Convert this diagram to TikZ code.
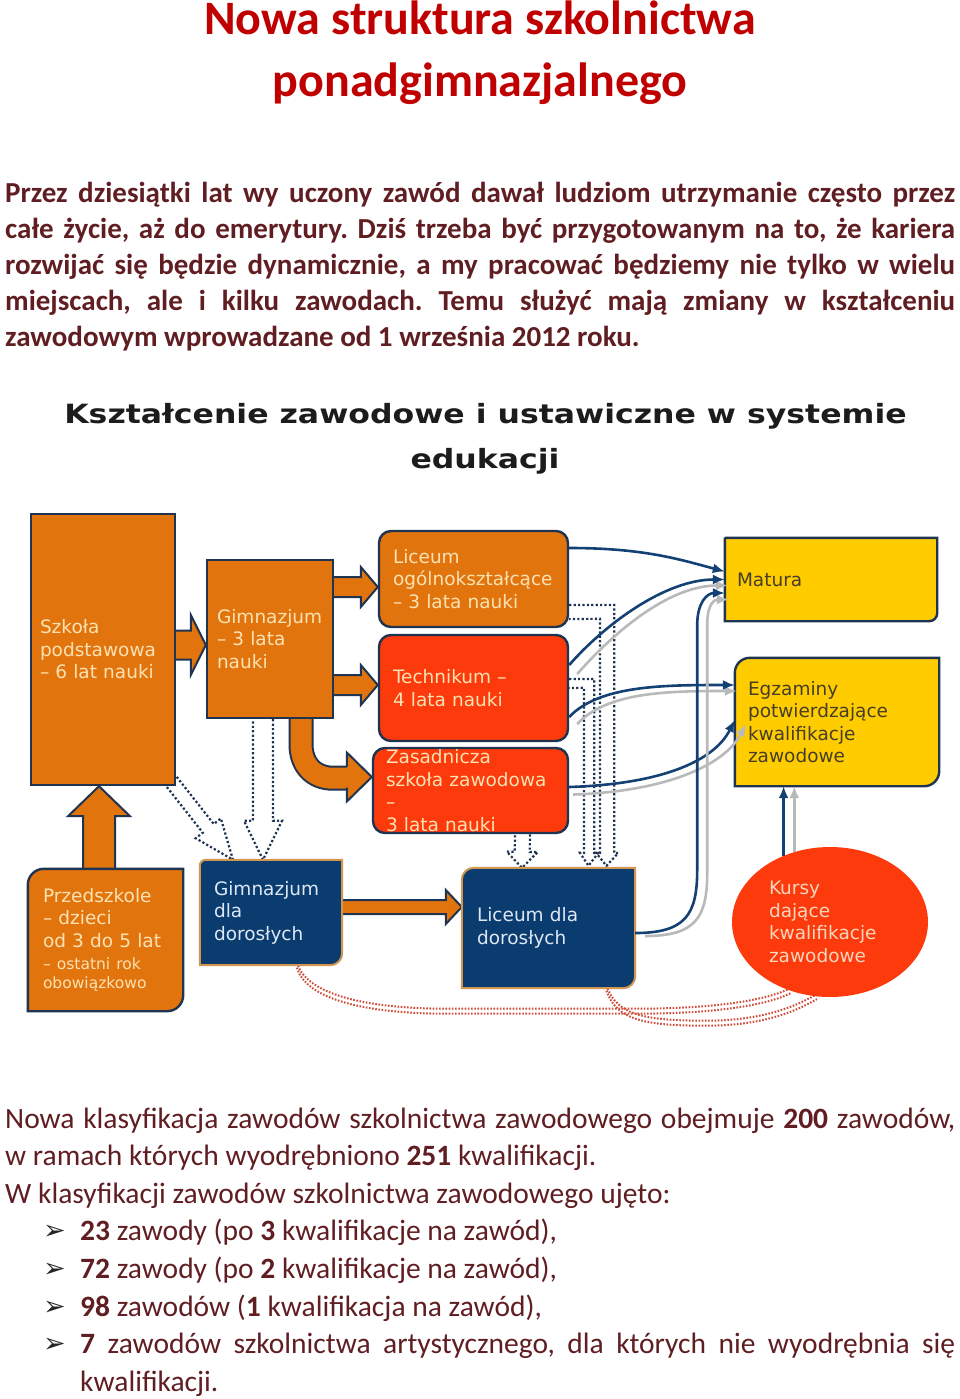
\documentclass[tikz,border=0pt]{standalone}
\usepackage{fontspec}
\usepackage{graphicx}
\usetikzlibrary{calc,shapes.geometric,arrows.meta,backgrounds}

\newfontfamily\docfont{Carlito}
\newfontfamily\diafont{DejaVu Sans}
\hyphenpenalty=10000
\frenchspacing

\definecolor{titlered}{RGB}{192,0,0}
\definecolor{bodytxt}{RGB}{96,30,34}
\definecolor{headgray}{RGB}{28,28,28}
\definecolor{orgfill}{RGB}{226,116,14}
\definecolor{redfill}{RGB}{252,58,12}
\definecolor{yelfill}{RGB}{255,204,0}
\definecolor{navyfill}{RGB}{10,60,112}
\definecolor{dkline}{RGB}{30,52,80}
\definecolor{tanline}{RGB}{210,150,80}
\definecolor{cream}{RGB}{252,226,178}
\definecolor{kcream}{RGB}{250,214,188}
\definecolor{paleblue}{RGB}{222,232,244}
\definecolor{olivetxt}{RGB}{70,62,40}
\definecolor{flowblue}{RGB}{20,65,115}
\definecolor{shadowgray}{RGB}{185,185,185}
\definecolor{dotred}{RGB}{205,75,55}

\tikzset{
  doctitle/.style={font=\docfont\bfseries\fontsize{48}{56}\selectfont, text=titlered, inner sep=0pt, anchor=base},
  introline/.style={font=\docfont\bfseries\fontsize{29}{36}\selectfont, text=bodytxt, inner sep=0pt, anchor=base west},
  infoline/.style={font=\docfont\fontsize{29.5}{37}\selectfont, text=bodytxt, inner sep=0pt, anchor=base west},
  bulletmark/.style={font=\diafont\fontsize{27}{27}\selectfont, text=black!85, inner sep=0pt, anchor=base west},
  headline/.style={font=\diafont\bfseries\fontsize{26.5}{30}\selectfont, text=headgray, inner sep=0pt, anchor=base},
  box/.style={font=\diafont\fontsize{18.5}{22.5}\selectfont, align=left, inner ysep=0pt},
  orgbox/.style={box, draw=dkline, line width=2.4pt, fill=orgfill, text=cream},
  redbox/.style={box, draw=dkline, line width=2.4pt, fill=redfill, text=cream, rounded corners=12pt},
  yelshape/.style={fill=yelfill, draw=dkline, line width=2.4pt},
  navyshape/.style={fill=navyfill, draw=tanline, line width=2pt},
  orgshape/.style={fill=orgfill, draw=dkline, line width=2.4pt},
  fatarr/.style={fill=orgfill, draw=dkline, line width=2pt},
  dotline/.style={draw=dkline, line width=2.2pt, dash pattern=on 2.2pt off 2.2pt},
  reddots/.style={draw=dotred, line width=2pt, dash pattern=on 1.6pt off 1.6pt},
  flow/.style={draw=flowblue, line width=2.6pt, -{Latex[length=12pt,width=10pt]}},
  flowshade/.style={flow, draw=shadowgray},
}

% block arrow: style, from, tip, shaft half width, head half width, head length
\newcommand\blockarrow[6]{%
  \coordinate (ba) at (#2);
  \coordinate (bt) at (#3);
  \coordinate (bb) at ($(bt)!#6!(ba)$);
  \path[#1] ($(ba)!#4!90:(bt)$) -- ($(bb)!#4!90:(bt)$) -- ($(bb)!#5!90:(bt)$)
    -- (bt) -- ($(bb)!#5!-90:(bt)$) -- ($(bb)!#4!-90:(bt)$) -- ($(ba)!#4!-90:(bt)$);
}
% box behind a node, rounded top left and bottom right
\newcommand\cutbox[4]{%
  \path[#2] (#1.south west) -- ($(#1.north west)+(0,#3)$) arc[start angle=180, end angle=90, radius=#3pt]
    -- (#1.north east) -- ($(#1.south east)+(0,-#4)$) arc[start angle=0, end angle=-90, radius=#4pt] -- cycle;
}

\begin{document}
\begin{tikzpicture}[x=1pt,y=-1pt]
  \useasboundingbox (0,0) rectangle (960,1399);

  % title and intro
  \node[doctitle] (title1) at (480,35) {Nowa struktura szkolnictwa};
  \node[doctitle] (title2) at (480,97) {ponadgimnazjalnego};

  \node[introline] (intro1) at (5,202) {\makebox[950pt][s]{Przez dziesiątki lat wy uczony zawód dawał ludziom utrzymanie często przez}};
  \node[introline] (intro2) at (5,238) {\makebox[950pt][s]{całe życie, aż do emerytury. Dziś trzeba być przygotowanym na to, że kariera}};
  \node[introline] (intro3) at (5,274) {\makebox[950pt][s]{rozwijać się będzie dynamicznie, a my pracować będziemy nie tylko w wielu}};
  \node[introline] (intro4) at (5,310) {\makebox[950pt][s]{miejscach, ale i kilku zawodach. Temu służyć mają zmiany w kształceniu}};
  \node[introline] (intro5) at (5,346) {zawodowym wprowadzane od 1 września 2012 roku.};

  % diagram
  \node[headline] (head1) at (485.5,423) {\scalebox{1.19}[1]{Kształcenie zawodowe i ustawiczne w systemie}};
  \node[headline] (head2) at (485,468) {\scalebox{1.19}[1]{edukacji}};

  \node[orgbox, minimum width=144pt, minimum height=271pt, text width=126pt, inner xsep=9pt] (szk) at (103,649.5) {Szkoła\\podstawowa\\– 6 lat nauki};
  \node[orgbox, minimum width=126pt, minimum height=158pt, text width=106pt, inner xsep=10pt] (gim) at (270,639) {Gimnazjum\\– 3 lata\\nauki};
  \node[redbox, fill=orgfill, minimum width=189pt, minimum height=96pt, text width=161pt, inner xsep=14pt] (lic) at (473.5,579) {Liceum\\ogólnokształcące\\– 3 lata nauki};
  \node[redbox, minimum width=189pt, minimum height=106pt, text width=161pt, inner xsep=14pt] (tech) at (473.5,688) {Technikum –\\4 lata nauki};
  \node[redbox, minimum width=195pt, minimum height=85pt, text width=169pt, inner xsep=13pt] (zas) at (470.5,790.5) {Zasadnicza\\szkoła zawodowa\\–\\3 lata nauki};
  \node[box, text=olivetxt, minimum width=212pt, minimum height=83pt, text width=188pt, inner xsep=12pt] (mat) at (831,579.5) {Matura};
  \node[box, text=olivetxt, minimum width=204pt, minimum height=128pt, text width=178pt, inner xsep=13pt] (egz) at (837,722) {Egzaminy\\potwierdzające\\kwalifikacje\\zawodowe};
  \node[box, text=cream, minimum width=155pt, minimum height=142pt, text width=125pt, inner xsep=15pt] (prz) at (105.5,940) {Przedszkole\\– dzieci\\od 3 do 5 lat\\{\fontsize{15.5}{22.5}\selectfont – ostatni rok}\\[-3.5pt]{\fontsize{15.5}{22.5}\selectfont obowiązkowo}};
  \node[box, text=paleblue, minimum width=142pt, minimum height=105pt, text width=114pt, inner xsep=14pt] (gdd) at (271,912.5) {Gimnazjum\\dla\\dorosłych};
  \node[box, text=paleblue, minimum width=173pt, minimum height=120pt, text width=143pt, inner xsep=15pt] (ldd) at (548.5,928) {Liceum dla\\dorosłych};
  \node[box, ellipse, fill=redfill, text=kcream, minimum width=196pt, minimum height=150pt, text width=122pt, inner sep=0pt] (kur) at (830,922) {Kursy\\dające\\kwalifikacje\\zawodowe};

  % paths to the exams
  \draw[flow] ([yshift=31pt]lic.east) .. controls +(75,0) and +(-45,-12) .. ([yshift=8pt]mat.west);
  \draw[flowshade] ([xshift=8pt,yshift=14pt]tech.east) .. controls +(35,-40) and +(-60,0) .. ([xshift=3pt,yshift=-6pt]mat.west);
  \draw[flow] ([yshift=23pt]tech.east) .. controls +(35,-40) and +(-60,0) .. (mat.west);
  \draw[flowshade] ([xshift=8pt,yshift=-36pt]tech.east) .. controls +(30,-32) and +(-70,0) .. ([xshift=2pt,yshift=31pt]egz.west);
  \draw[flow] ([yshift=-29pt]tech.east) .. controls +(30,-32) and +(-70,0) .. ([yshift=37pt]egz.west);
  \draw[flowshade] ([xshift=4pt,yshift=-4pt]zas.east) .. controls +(95,-3) and +(-20,40) .. ([xshift=11pt,yshift=-2pt]egz.west);
  \draw[flow] ([yshift=3.5pt]zas.east) .. controls +(95,-3) and +(-20,40) .. ([yshift=2pt]egz.west);
  \draw[flowshade] ([xshift=10pt,yshift=-8pt]ldd.east) .. controls +(50,0) and +(0,45) .. ++(62,-63) -- ++(0,-248) .. controls +(0,-22) and +(-14,0) .. ([xshift=4pt,yshift=-20pt]mat.west);
  \draw[flow] ([yshift=-5pt]ldd.east) .. controls +(50,0) and +(0,45) .. ++(62,-63) -- ++(0,-245) .. controls +(0,-22) and +(-18,0) .. ([yshift=-13.5pt]mat.west);
  \draw[flowshade] (kur.117) -- (kur.117 |- egz.south);
  \draw[flow] (kur.125) -- (kur.125 |- egz.south);

  \begin{scope}[on background layer]
    \fill[white] (0,0) rectangle (960,1399);
    % school to school
    \blockarrow{fatarr}{[yshift=4.5pt]szk.east}{[yshift=-6pt]gim.west}{14.5pt}{30pt}{15pt}
    \blockarrow{fatarr}{[yshift=52pt]gim.east}{[yshift=-8pt]lic.west}{10pt}{20pt}{17pt}
    \blockarrow{fatarr}{[yshift=-46pt]gim.east}{[yshift=3pt]tech.west}{10pt}{20pt}{17pt}
    \blockarrow{fatarr}{[yshift=5.5pt]gdd.east}{[yshift=21pt]ldd.west}{7pt}{17pt}{16pt}
    \blockarrow{fatarr}{[xshift=-6.5pt]prz.north}{[xshift=-4pt]szk.south}{16pt}{31pt}{30pt}
    \draw[draw=dkline, line width=2pt, double=orgfill, double distance=21pt] ([xshift=31pt]gim.south) -- ++(0,25) .. controls +(0,20) and +(-20,0) .. ++(32,34) -- ++(16,0);
    \coordinate (gzt) at ([yshift=13.5pt]zas.west);
    \path[fatarr] ($(gzt)+(-25,-10.5)$) -- ($(gzt)+(-25,-24.5)$) -- (gzt) -- ($(gzt)+(-25,24.5)$) -- ($(gzt)+(-25,10.5)$);

    % adult schools
    \blockarrow{dotline}{[xshift=-5pt,yshift=5pt]szk.south east}{[xshift=-38pt]gdd.north}{7pt}{16pt}{40pt}
    \blockarrow{dotline}{[xshift=-7pt]gim.south}{[xshift=-8pt]gdd.north}{10pt}{19pt}{39pt}
    \blockarrow{dotline}{[xshift=52pt]zas.south}{[xshift=-26.5pt]ldd.north}{7.5pt}{15.5pt}{16pt}
    \draw[dotline] ([yshift=-26pt]lic.east) -- ++(45,0) -- ++(0,248) -- ++(4,0) -- ([xshift=58pt,yshift=2pt]ldd.north) -- ++(-10.5,-13) -- ++(4,0) -- ++(0,-234) -- ([yshift=-40pt]lic.east);
    \draw[dotline] ([yshift=9pt]tech.east) -- ++(25,0) -- ++(0,174) -- ++(4,0) -- ([xshift=40pt,yshift=2pt]ldd.north) -- ++(-8.5,-13) -- ++(4,0) -- ++(0,-165) -- (tech.east);

    % courses
    \foreach \o in {-2.5,2.5} {
      \draw[reddots] ([xshift=26pt,yshift=\o pt]gdd.south) .. controls +(10,35) and +(-70,0) .. ++(150,46) -- ++(190,0) .. controls +(60,0) and +(-30,15) .. ([yshift=\o pt]kur.-120);
      \draw[reddots] ([xshift=58pt,yshift=\o pt]ldd.south) .. controls +(10,30) and +(-60,0) .. ++(100,35) .. controls +(50,0) and +(-25,15) .. ([yshift=\o pt]kur.-100);
    }

    \cutbox{mat}{yelshape}{1}{8}
    \cutbox{egz}{yelshape}{15}{15}
    \cutbox{prz}{orgshape}{16}{16}
    \cutbox{gdd}{navyshape}{6}{12}
    \cutbox{ldd}{navyshape}{12}{12}
  \end{scope}

  % classification
  \node[infoline] (info1) at (5,1128) {\makebox[950pt][s]{Nowa klasyfikacja zawodów szkolnictwa zawodowego obejmuje \textbf{200} zawodów,}};
  \node[infoline] (info2) at (5,1165.6) {w ramach których wyodrębniono \textbf{251} kwalifikacji.};
  \node[infoline] (info3) at (5,1203.2) {W klasyfikacji zawodów szkolnictwa zawodowego ujęto:};
  \node[infoline] (info4) at (80,1240.8) {\textbf{23} zawody (po \textbf{3} kwalifikacje na zawód),};
  \node[infoline] (info5) at (80,1278.4) {\textbf{72} zawody (po \textbf{2} kwalifikacje na zawód),};
  \node[infoline] (info6) at (80,1316) {\textbf{98} zawodów (\textbf{1} kwalifikacja na zawód),};
  \node[infoline] (info7) at (80,1353.6) {\makebox[875pt][s]{\textbf{7} zawodów szkolnictwa artystycznego, dla których nie wyodrębnia się}};
  \node[infoline] (info8) at (80,1391.2) {kwalifikacji.};
  \foreach \y [count=\i] in {1240.8,1278.4,1316,1353.6}
    \node[bulletmark] (bul\i) at (43,\y-1) {➢};
\end{tikzpicture}
\end{document}
